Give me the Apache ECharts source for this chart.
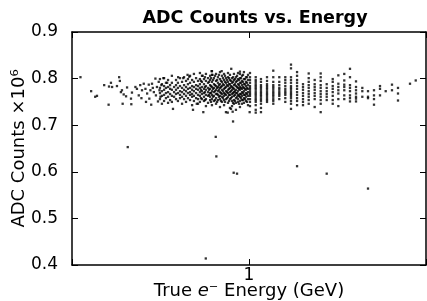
<!DOCTYPE html>
<html><head><meta charset="utf-8">
<script src="https://cdn.jsdelivr.net/npm/echarts@6/dist/echarts.min.js"></script>
<style>html,body{margin:0;padding:0;background:#fff}#c{width:427px;height:301px}</style>
</head><body><div id="c"></div>
<script>
const titleText = 'ADC Counts vs. Energy';
const yTickValues = [0.4, 0.5, 0.6, 0.7, 0.8, 0.9];
const xTickLabels = ['1'];

// continuous cloud below 1 GeV: [energy GeV, ADC counts x1e6]
const cloudPoints = [
[0.216,0.803],[0.238,0.773],[0.247,0.761],[0.251,0.763],[0.268,0.786],[0.280,0.783],[0.285,0.791],[0.288,0.782],[0.279,0.744],[0.307,0.803],[0.301,0.784],[0.309,0.795],[0.315,0.775],[0.312,0.771],[0.320,0.766],[0.317,0.746],[0.330,0.781],[0.327,0.762],[0.342,0.757],[0.343,0.745],[0.345,0.770],[0.356,0.782],[0.361,0.778],[0.367,0.764],[0.372,0.786],[0.378,0.775],[0.376,0.758],[0.384,0.789],[0.390,0.778],[0.396,0.768],[0.392,0.750],[0.402,0.787],[0.408,0.775],[0.404,0.757],[0.414,0.789],[0.421,0.771],[0.417,0.780],[0.427,0.800],[0.433,0.782],[0.429,0.764],[0.440,0.793],[0.443,0.775],[0.447,0.761],[0.437,0.751],[0.451,0.786],[0.411,0.744],
[0.445,0.799],[0.445,0.780],[0.445,0.769],[0.445,0.756],
[0.453,0.788],[0.453,0.773],[0.453,0.763],[0.453,0.746],
[0.462,0.801],[0.462,0.784],[0.462,0.776],[0.462,0.765],[0.462,0.752],
[0.470,0.791],[0.470,0.780],[0.470,0.769],[0.470,0.758],
[0.479,0.797],[0.479,0.782],[0.479,0.771],[0.479,0.761],[0.479,0.748],
[0.488,0.786],[0.488,0.778],[0.488,0.767],[0.488,0.754],
[0.496,0.806],[0.496,0.791],[0.496,0.776],[0.496,0.763],[0.496,0.750],
[0.506,0.782],[0.506,0.771],[0.506,0.761],[0.501,0.735],
[0.515,0.797],[0.515,0.786],[0.515,0.776],[0.515,0.767],[0.515,0.756],
[0.524,0.791],[0.524,0.780],[0.524,0.769],[0.524,0.752],
[0.534,0.801],[0.534,0.784],[0.534,0.773],[0.534,0.765],[0.534,0.758],
[0.544,0.793],[0.544,0.780],[0.544,0.771],[0.544,0.761],[0.544,0.746],
[0.554,0.803],[0.554,0.786],[0.554,0.776],[0.554,0.767],[0.554,0.756],
[0.564,0.795],[0.564,0.782],[0.564,0.773],[0.564,0.763],[0.564,0.750],
[0.574,0.799],[0.574,0.788],[0.574,0.778],[0.574,0.769],[0.574,0.758],
[0.585,0.806],[0.585,0.791],[0.585,0.780],[0.585,0.771],[0.585,0.765],[0.585,0.754],
[0.596,0.797],[0.596,0.784],[0.596,0.776],[0.596,0.767],[0.596,0.761],[0.596,0.743],
[0.606,0.810],[0.606,0.793],[0.606,0.782],[0.606,0.773],[0.606,0.763],[0.606,0.752],
[0.618,0.801],[0.618,0.786],[0.618,0.778],[0.618,0.769],[0.618,0.758],
[0.629,0.795],[0.629,0.784],[0.629,0.776],[0.629,0.765],[0.629,0.756],[0.629,0.746],
[0.640,0.812],[0.640,0.799],[0.640,0.788],[0.640,0.780],[0.640,0.771],[0.640,0.763],[0.640,0.750],
[0.646,0.795],[0.646,0.776],[0.646,0.758],
[0.652,0.806],[0.652,0.793],[0.652,0.782],[0.652,0.773],[0.652,0.767],[0.652,0.756],
[0.660,0.728],
[0.664,0.799],[0.664,0.788],[0.664,0.778],[0.664,0.769],[0.664,0.761],[0.664,0.752],
[0.670,0.803],[0.670,0.782],[0.670,0.771],[0.670,0.754],
[0.676,0.810],[0.676,0.795],[0.676,0.784],[0.676,0.776],[0.676,0.765],[0.676,0.756],[0.676,0.741],
[0.689,0.801],[0.689,0.791],[0.689,0.780],[0.689,0.771],[0.689,0.763],[0.689,0.748],
[0.695,0.793],[0.695,0.776],[0.695,0.765],
[0.702,0.806],[0.702,0.797],[0.702,0.786],[0.702,0.778],[0.702,0.769],[0.702,0.761],[0.702,0.754],
[0.708,0.801],[0.708,0.784],[0.708,0.769],[0.708,0.750],
[0.714,0.816],[0.714,0.808],[0.714,0.793],[0.714,0.782],[0.714,0.773],[0.714,0.765],[0.714,0.756],[0.714,0.743],
[0.721,0.797],[0.721,0.778],[0.721,0.761],
[0.727,0.801],[0.727,0.788],[0.727,0.780],[0.727,0.771],[0.727,0.763],[0.727,0.752],
[0.734,0.806],[0.734,0.786],[0.734,0.773],[0.734,0.754],
[0.741,0.810],[0.741,0.795],[0.741,0.784],[0.741,0.776],[0.741,0.767],[0.741,0.758],[0.741,0.746],
[0.748,0.797],[0.748,0.780],[0.748,0.767],[0.748,0.750],
[0.754,0.803],[0.754,0.791],[0.754,0.782],[0.754,0.773],[0.754,0.765],[0.754,0.754],
[0.761,0.808],[0.761,0.786],[0.761,0.776],[0.761,0.761],
[0.768,0.814],[0.768,0.799],[0.768,0.788],[0.768,0.780],[0.768,0.771],[0.768,0.763],[0.768,0.756],[0.768,0.739],
[0.775,0.795],[0.775,0.782],[0.775,0.769],[0.775,0.752],
[0.782,0.806],[0.782,0.793],[0.782,0.784],[0.782,0.776],[0.782,0.767],[0.782,0.761],[0.782,0.750],
[0.789,0.801],[0.789,0.788],[0.789,0.773],[0.789,0.758],
[0.797,0.810],[0.797,0.797],[0.797,0.786],[0.797,0.778],[0.797,0.769],[0.797,0.763],[0.797,0.754],[0.797,0.743],
[0.804,0.806],[0.804,0.793],[0.804,0.780],[0.804,0.767],[0.804,0.750],
[0.811,0.801],[0.811,0.791],[0.811,0.782],[0.811,0.773],[0.811,0.765],[0.811,0.756],[0.811,0.728],
[0.819,0.797],[0.819,0.786],[0.819,0.771],[0.819,0.758],
[0.826,0.812],[0.826,0.803],[0.826,0.793],[0.826,0.784],[0.826,0.776],[0.826,0.769],[0.826,0.761],[0.826,0.748],
[0.834,0.801],[0.834,0.788],[0.834,0.778],[0.834,0.765],[0.834,0.752],
[0.841,0.808],[0.841,0.797],[0.841,0.788],[0.841,0.780],[0.841,0.771],[0.841,0.765],[0.841,0.756],[0.841,0.737],
[0.849,0.795],[0.849,0.784],[0.849,0.773],[0.849,0.758],[0.849,0.735],
[0.851,0.821],
[0.857,0.801],[0.857,0.791],[0.857,0.782],[0.857,0.776],[0.857,0.767],[0.857,0.761],[0.857,0.752],[0.857,0.741],
[0.865,0.803],[0.865,0.793],[0.865,0.780],[0.865,0.769],[0.865,0.748],
[0.872,0.810],[0.872,0.797],[0.872,0.786],[0.872,0.778],[0.872,0.771],[0.872,0.763],[0.872,0.754],[0.872,0.746],
[0.880,0.799],[0.880,0.788],[0.880,0.773],[0.880,0.765],[0.880,0.752],
[0.888,0.803],[0.888,0.793],[0.888,0.784],[0.888,0.776],[0.888,0.769],[0.888,0.758],[0.888,0.748],[0.888,0.733],
[0.897,0.806],[0.897,0.795],[0.897,0.782],[0.897,0.769],[0.897,0.761],
[0.905,0.812],[0.905,0.799],[0.905,0.788],[0.905,0.780],[0.905,0.773],[0.905,0.765],[0.905,0.756],[0.905,0.750],
[0.913,0.797],[0.913,0.786],[0.913,0.778],[0.913,0.763],[0.913,0.746],
[0.921,0.815],[0.921,0.810],[0.921,0.801],[0.921,0.791],[0.921,0.782],[0.921,0.776],[0.921,0.767],[0.921,0.761],[0.921,0.752],[0.921,0.739],
[0.930,0.801],[0.930,0.791],[0.930,0.780],[0.930,0.767],[0.930,0.758],
[0.938,0.806],[0.938,0.795],[0.938,0.786],[0.938,0.778],[0.938,0.771],[0.938,0.763],[0.938,0.754],[0.938,0.746],
[0.947,0.808],[0.947,0.793],[0.947,0.782],[0.947,0.769],[0.947,0.754],
[0.955,0.814],[0.955,0.799],[0.955,0.788],[0.955,0.780],[0.955,0.773],[0.955,0.765],[0.955,0.758],[0.955,0.748],
[0.964,0.799],[0.964,0.788],[0.964,0.778],[0.964,0.765],[0.964,0.756],
[0.973,0.803],[0.973,0.793],[0.973,0.784],[0.973,0.776],[0.973,0.769],[0.973,0.761],[0.973,0.752],
[0.982,0.803],[0.982,0.791],[0.982,0.780],[0.982,0.767],[0.982,0.750],
[0.991,0.808],[0.991,0.797],[0.991,0.786],[0.991,0.778],[0.991,0.771],[0.991,0.763],[0.991,0.756],[0.991,0.743],
[0.712,0.816],[0.717,0.808],[0.581,0.804],[0.656,0.806],[0.550,0.801],[0.459,0.801],[0.475,0.791],[0.622,0.746],[0.525,0.803],[0.572,0.808],[0.780,0.816]
];

// discrete energy columns above 1 GeV
const columnEnergies = [1.009,1.063,1.115,1.178,1.247,1.317,1.391,1.465,1.548,1.634,1.721,1.817,1.919,2.027,2.141,2.253,2.378,2.505,2.646,2.802,2.951,3.116,3.291,3.466,3.670,3.876,4.323,4.554];
const columnValues = [
[0.812,0.803,0.797,0.791,0.784,0.780,0.776,0.771,0.767,0.763,0.756,0.750,0.741],
[0.803,0.797,0.793,0.788,0.784,0.780,0.776,0.771,0.767,0.763,0.758,0.754,0.750,0.743,0.733,0.727],
[0.799,0.793,0.786,0.782,0.778,0.773,0.769,0.765,0.761,0.756,0.752,0.746,0.737,0.728],
[0.803,0.795,0.788,0.784,0.780,0.776,0.771,0.767,0.763,0.758,0.754,0.750],
[0.817,0.803,0.793,0.786,0.782,0.778,0.773,0.769,0.765,0.761,0.756,0.752,0.746],
[0.803,0.793,0.786,0.780,0.776,0.771,0.767,0.763,0.756],
[0.803,0.797,0.791,0.784,0.778,0.773,0.769,0.765,0.758,0.750],
[0.830,0.822,0.803,0.797,0.791,0.784,0.780,0.776,0.771,0.767,0.763,0.758,0.752,0.746,0.735],
[0.814,0.806,0.797,0.791,0.784,0.778,0.771,0.765,0.758,0.752,0.743],
[0.788,0.782,0.776,0.769,0.763,0.756,0.750,0.743],
[0.811,0.801,0.793,0.786,0.780,0.773,0.767,0.761,0.754,0.746],
[0.797,0.788,0.782,0.776,0.769,0.763,0.756,0.739],
[0.811,0.803,0.795,0.786,0.780,0.773,0.767,0.761,0.754,0.746,0.728],
[0.788,0.780,0.773,0.767,0.761,0.754],
[0.799,0.793,0.784,0.778,0.771,0.763,0.754,0.746],
[0.807,0.789,0.782,0.775,0.768,0.756,0.741],
[0.810,0.796,0.787,0.782,0.775,0.764,0.756],
[0.821,0.803,0.786,0.780,0.773,0.764,0.758,0.751],
[0.794,0.782,0.775,0.768,0.761,0.757,0.751],
[0.780,0.773,0.761],
[0.773,0.761,0.758],
[0.775,0.764,0.756,0.744],
[0.784,0.778,0.764],
[0.773],
[0.787,0.775],
[0.780,0.768,0.753],
[0.789],
[0.796]
];

// isolated low points
const outlierPoints = [[0.332,0.653],[0.739,0.675],[0.743,0.633],[0.870,0.598],[0.897,0.596],[0.865,0.708],[1.548,0.612],[2.027,0.596],[2.951,0.564],[0.675,0.414],[0.824,0.727],[0.862,0.729],[1.006,0.728],[0.601,0.733]];

const allPoints = cloudPoints.slice();
columnEnergies.forEach((e, i) => columnValues[i].forEach(v => allPoints.push([e, v])));
outlierPoints.forEach(p => allPoints.push(p));

const FONT = 'DejaVu Sans';
const axisLine = {show: true, onZero: false, lineStyle: {color: '#000', width: 1.5}};
const chart = echarts.init(document.getElementById('c'), null, {renderer: 'canvas'});
chart.setOption({
  animation: false,
  backgroundColor: '#fff',
  title: {text: titleText, left: 250, textAlign: 'center', top: 4,
    textStyle: {fontFamily: FONT, fontSize: 17.5, fontWeight: 'bold', color: '#000'}},
  grid: {left: 72, right: 1, top: 32, bottom: 36, containLabel: false, outerBoundsMode: 'none'},
  xAxis: [{
    type: 'log', min: 0.2, max: 5, position: 'bottom',
    axisLine: axisLine,
    axisTick: {inside: true, length: 6, lineStyle: {color: '#000', width: 1}},
    axisLabel: {fontFamily: FONT, fontSize: 17, color: '#000', margin: 2,
      formatter: v => (Math.abs(v - 1) < 1e-9 ? xTickLabels[0] : '')},
    splitLine: {show: false}, minorTick: {show: false},
    name: 'True {i|e}⁻ Energy (GeV)', nameLocation: 'middle', nameGap: 17, nameMoveOverlap: false,
    nameTextStyle: {fontFamily: FONT, fontSize: 18, color: '#000', verticalAlign: 'top',
      rich: {i: {fontFamily: FONT, fontSize: 18, fontStyle: 'italic', color: '#000'}}}
  }, {
    type: 'log', min: 0.2, max: 5, position: 'top',
    axisLine: axisLine,
    axisTick: {inside: true, length: 6, lineStyle: {color: '#000', width: 1}},
    axisLabel: {show: false}, splitLine: {show: false}
  }],
  yAxis: [{
    type: 'value', min: 0.4, max: 0.9, interval: 0.1, position: 'left',
    axisLine: axisLine,
    axisTick: {inside: true, length: 6, lineStyle: {color: '#000', width: 1}},
    axisLabel: {fontFamily: FONT, fontSize: 17, color: '#000', margin: 14,
      formatter: v => { const t = yTickValues.find(x => Math.abs(x - v) < 1e-6); return t === undefined ? '' : t.toFixed(1); }},
    splitLine: {show: false},
    name: 'ADC Counts ×10⁶', nameLocation: 'middle', nameRotate: 90, nameGap: 44, nameMoveOverlap: false,
    nameTextStyle: {fontFamily: FONT, fontSize: 18, color: '#000'}
  }, {
    type: 'value', min: 0.4, max: 0.9, interval: 0.1, position: 'right',
    axisLine: axisLine,
    axisTick: {inside: true, length: 6, lineStyle: {color: '#000', width: 1}},
    axisLabel: {show: false}, splitLine: {show: false}
  }],
  series: [{
    type: 'scatter', xAxisIndex: 0, yAxisIndex: 0,
    symbol: 'rect', symbolSize: 2.3,
    itemStyle: {color: '#000'},
    data: allPoints
  }]
});
</script></body></html>
